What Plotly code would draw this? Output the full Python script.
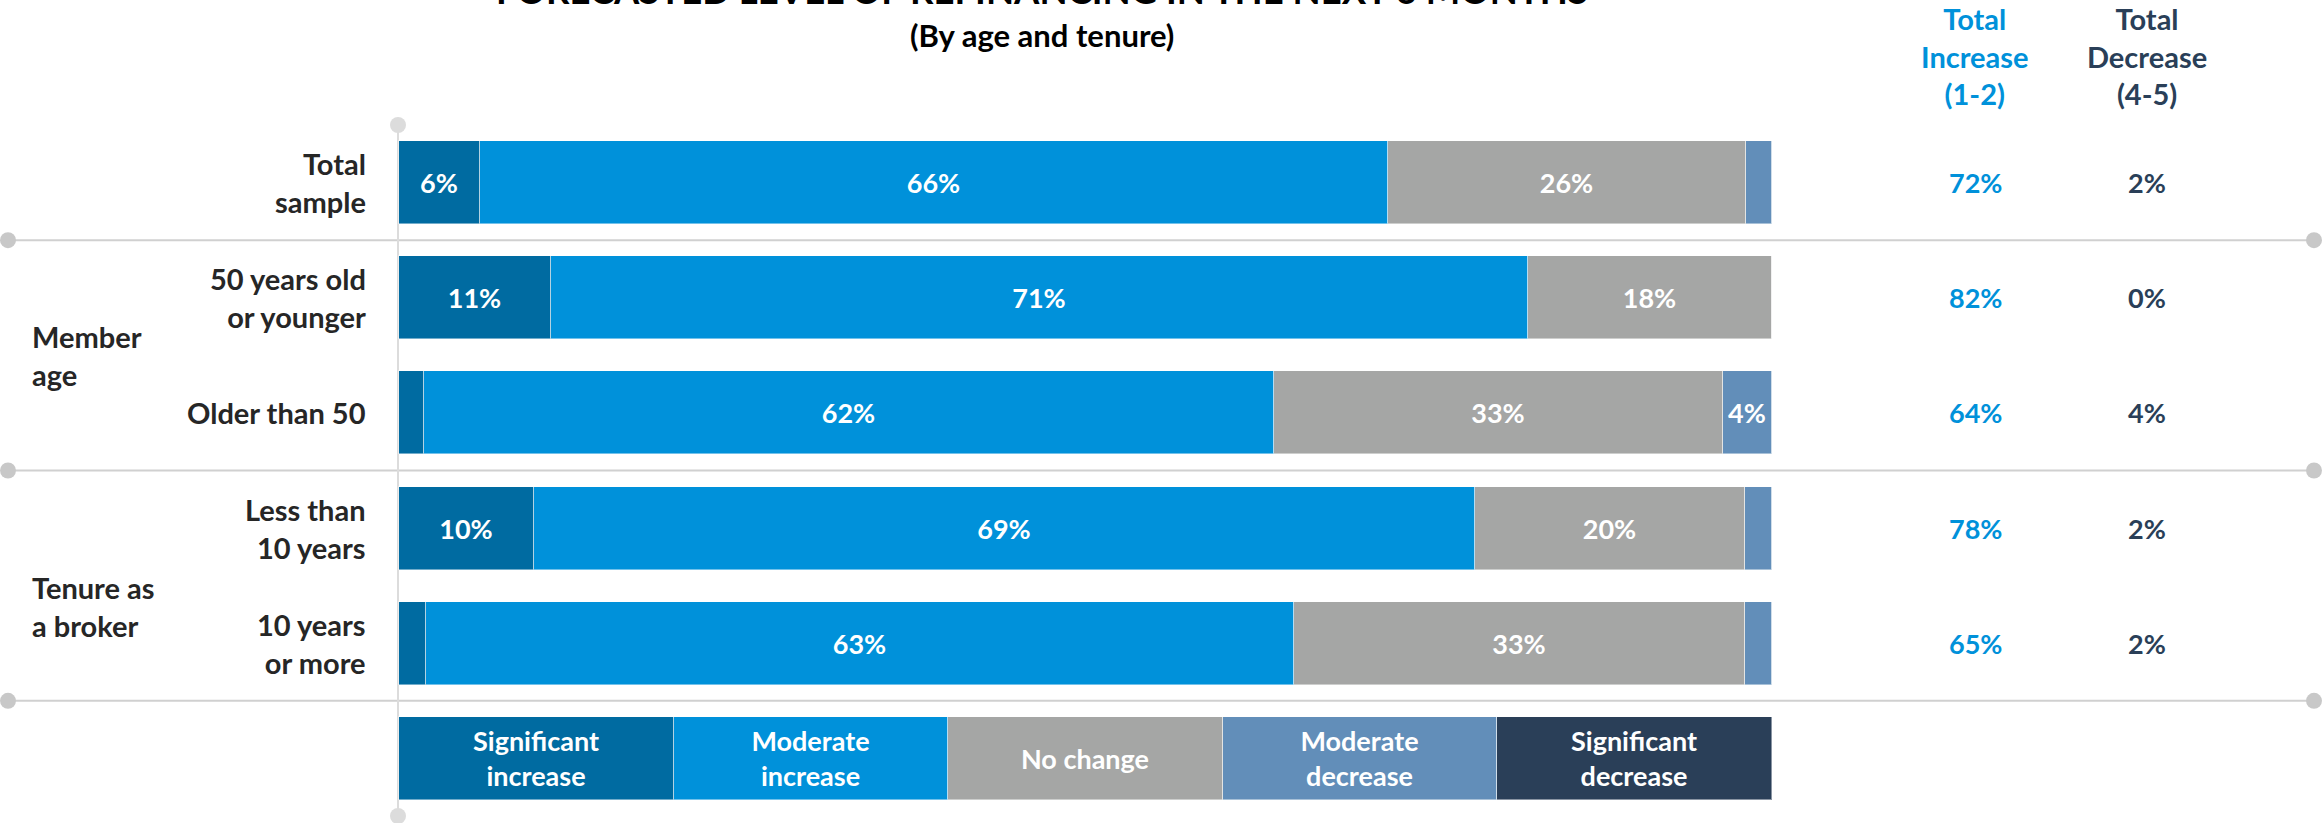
import plotly.graph_objects as go

# ---------------- data ----------------
categories = ["Total<br>sample", "50 years old<br>or younger", "Older than 50",
              "Less than<br>10 years", "10 years<br>or more"]
group_labels = ["Member<br>age", "Tenure as<br>a broker"]
series_names = ["Significant increase", "Moderate increase", "No change",
                "Moderate decrease", "Significant decrease"]
legend_labels = ["Significant<br>increase", "Moderate<br>increase", "No change",
                 "Moderate<br>decrease", "Significant<br>decrease"]
sig_inc = [5.9, 11.1, 1.8, 9.8, 2.0]
mod_inc = [66.1, 71.1, 61.9, 68.6, 63.2]
no_change = [26.1, 17.8, 32.7, 19.6, 32.8]
mod_dec = [1.9, 0.0, 3.6, 2.0, 2.0]
sig_dec = [0.0, 0.0, 0.0, 0.0, 0.0]
total_increase = [72, 82, 64, 78, 65]
total_decrease = [2, 0, 4, 2, 2]
title_text = "FORECASTED LEVEL OF REFINANCING IN THE NEXT 6 MONTHS"
subtitle_text = "(By age and tenure)"
header_increase = "Total<br>Increase<br>(1-2)"
header_decrease = "Total<br>Decrease<br>(4-5)"

# ---------------- style / layout ----------------
W, H = 2323, 823
FONT = "Lato"
colors = ["#006BA1", "#0091DA", "#A5A6A5", "#628EB9", "#2A3F58"]
INC_COLOR = "#0091DA"
DEC_COLOR = "#2A3F58"
LABEL_COLOR = "#262626"
LINE_COLOR = "#D0D0D0"
DOT_COLOR = "#C8C8C8"
VDOT_COLOR = "#DCDCDC"
LBL = 29
NUM = 27

TOP = 125
BOTTOM = H - 816
n_rows = len(categories) + 1          # + legend row
plot_h = H - TOP - BOTTOM
row_px = plot_h / n_rows
BAR_L, BAR_R = 399, 1772
k = (BAR_R - BAR_L) / 100.0


def xd(px):
    """page px -> data x"""
    return (px - BAR_L) / k


def yd(py):
    """page px -> data y"""
    return (py - TOP) / row_px - 0.5


def yp(py):
    """page px -> paper y"""
    return (H - BOTTOM - py) / plot_h


def xp(px):
    return px / W


rows = list(range(len(categories)))
legend_row = len(categories)
series_vals = [sig_inc, mod_inc, no_change, mod_dec, sig_dec]
legend_share = 100.0 / len(series_names)

fig = go.Figure()

for name, vals, col, leg in zip(series_names, series_vals, colors, legend_labels):
    texts = [f"<b>{v:.0f}%</b>" if v >= 3 else "" for v in vals]
    fig.add_trace(go.Bar(
        x=vals + [legend_share], y=rows + [legend_row], orientation="h",
        name=name, marker=dict(color=col, line=dict(color="rgba(255,255,255,0.45)", width=1)),
        width=0.72, text=texts + [f"<b>{leg}</b>"], textposition="inside",
        insidetextanchor="middle", textangle=0, constraintext="none",
        textfont=dict(color="white", size=NUM, family=FONT),
        showlegend=False, hoverinfo="skip",
    ))

# separator lines with end dots
sep_y = [0.5, 2.5, 4.5]
shapes = []
for y in sep_y:
    shapes.append(dict(type="line", xref="x", yref="y", x0=xd(8), x1=xd(2314), y0=y, y1=y,
                       line=dict(color=LINE_COLOR, width=2), layer="below"))
shapes.append(dict(type="line", xref="x", yref="y", x0=xd(398), x1=xd(398), y0=-0.5, y1=n_rows - 0.5,
                   line=dict(color="#DCDCDC", width=2), layer="below"))

fig.add_trace(go.Scatter(
    x=[xd(8)] * len(sep_y) + [xd(2314)] * len(sep_y), y=sep_y + sep_y, mode="markers",
    marker=dict(color=DOT_COLOR, size=16), cliponaxis=False, showlegend=False, hoverinfo="skip"))
fig.add_trace(go.Scatter(
    x=[xd(398), xd(398)], y=[-0.5, n_rows - 0.5], mode="markers",
    marker=dict(color=VDOT_COLOR, size=16), cliponaxis=False, showlegend=False, hoverinfo="skip"))


def note(x, y, text, size, color, xanchor="center", yanchor="middle", align="center", yref="y"):
    return dict(x=x, y=y, xref="paper", yref=yref, text=f"<b>{text}</b>", showarrow=False,
                xanchor=xanchor, yanchor=yanchor, align=align,
                font=dict(size=size, color=color, family=FONT))


ann = []
for r, c in zip(rows, categories):
    ann.append(note(xp(368), r, c, LBL, LABEL_COLOR, xanchor="right", align="right"))
for gy, g in zip([yd(355), yd(606)], group_labels):
    ann.append(note(xp(30), gy, g, LBL, LABEL_COLOR, xanchor="left", align="left"))
for r, v in zip(rows, total_increase):
    ann.append(note(xp(1975), r, f"{v}%", NUM, INC_COLOR))
for r, v in zip(rows, total_decrease):
    ann.append(note(xp(2147), r, f"{v}%", NUM, DEC_COLOR))
ann.append(note(xp(1975), yp(56), header_increase, LBL, INC_COLOR, yref="paper"))
ann.append(note(xp(2147), yp(56), header_decrease, LBL, DEC_COLOR, yref="paper"))
ann.append(note(xp(1042), yp(14), title_text, 36.5, "black", yanchor="bottom", yref="paper"))
ann.append(note(xp(1042), yp(35), subtitle_text, 31, "black", yref="paper"))

fig.update_layout(
    width=W, height=H, barmode="stack", bargap=0,
    margin=dict(l=0, r=0, t=TOP, b=BOTTOM, pad=0),
    plot_bgcolor="white", paper_bgcolor="white",
    xaxis=dict(range=[xd(0), xd(W)], visible=False, fixedrange=True),
    yaxis=dict(range=[n_rows - 0.5, -0.5], visible=False, fixedrange=True),
    shapes=shapes, annotations=ann, font=dict(family=FONT),
)

fig.write_html("out.html", config={"displayModeBar": False},
               post_script="document.body.style.margin='0px';document.body.style.overflow='hidden';")
